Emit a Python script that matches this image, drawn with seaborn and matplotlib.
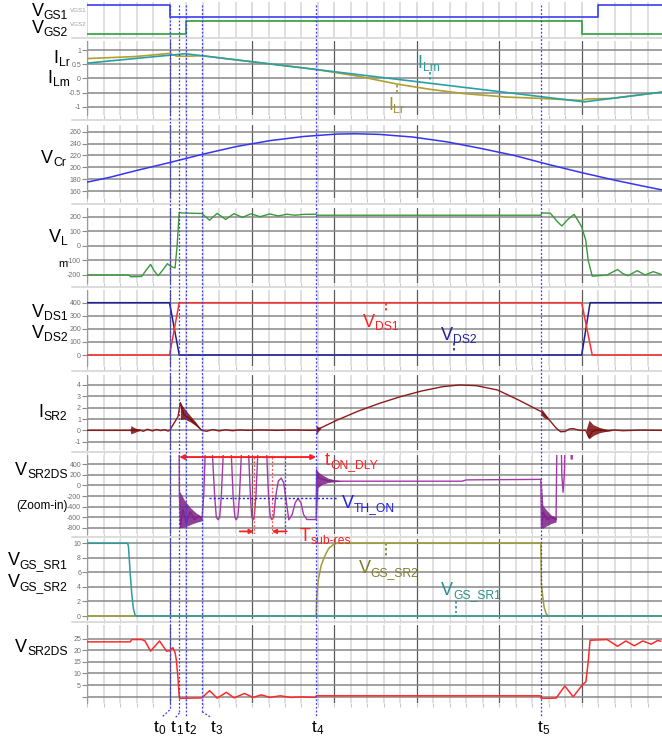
import numpy as np
import pandas as pd
import matplotlib
matplotlib.use("Agg")
import matplotlib.pyplot as plt
import seaborn as sns
from matplotlib.lines import Line2D
from matplotlib import transforms

sns.set_theme(style="white")
plt.rcParams['font.family'] = ['Liberation Sans', 'DejaVu Sans']
plt.rcParams['axes.unicode_minus'] = False

W, H = 662, 743
XL, XR, DIV = 87.3, 662.0, 82.5
XMAX = (XR - XL) / DIV

# ---------------- data (time in major divisions) ----------------
event_labels = ['0', '1', '2', '3', '4', '5']
event_times = [0.998, 1.116, 1.203, 1.392, 2.778, 5.510]

vgs1_t = [0.0, 0.998, 0.998, 6.205, 6.205, 6.97]
vgs1_v = [1, 1, 0, 0, 1, 1]
vgs2_t = [0.0, 1.203, 1.203, 6.001, 6.001, 6.97]
vgs2_v = [0, 0, 1, 1, 0, 0]

ilm_t = [0.00, 1.19, 6.03, 6.97]
ilm_v = [0.54, 0.87, -0.82, -0.48]
ilr_t = [0.00, 0.58, 1.00, 1.08, 1.19, 1.39, 2.78, 3.29, 3.75, 4.16, 4.57, 5.08, 5.51, 6.00, 6.06, 6.36, 6.97]
ilr_v = [0.70, 0.77, 0.88, 0.79, 0.78, 0.80, 0.315, 0.08, -0.19, -0.38, -0.53, -0.65, -0.70, -0.77, -0.72, -0.70, -0.48]

vcr_t = [0.00, 0.27, 0.58, 1.00, 1.40, 1.81, 2.22, 2.63, 3.03, 3.25, 3.54, 3.95, 4.36, 4.77, 5.18, 5.59, 6.00, 6.41, 6.72, 6.97]
vcr_v = [175, 183, 194, 208, 222, 235, 245, 252, 256, 256.5, 255.5, 251, 243, 232, 220, 205, 191, 178, 169, 162]

vl_t = [0.00, 0.50, 0.53, 0.66, 0.71, 0.768, 0.81, 0.86, 0.91, 0.973, 1.01, 1.065, 1.09, 1.116, 1.14, 1.25,
        1.39, 1.484, 1.576, 1.679, 1.781, 1.883, 1.986, 2.098, 2.216, 2.318, 2.420, 2.523, 2.62, 2.775, 2.785,
        5.505, 5.52, 5.62, 5.70, 5.76, 5.83, 5.909, 5.96, 6.00, 6.05, 6.08, 6.129, 6.20, 6.31, 6.436, 6.50,
        6.564, 6.676, 6.768, 6.870, 6.962]
vl_v = [-200, -200, -212, -210, -170, -127, -170, -205, -170, -122, -140, -152, 0, 230, 226, 224,
        222, 176, 223, 181, 221, 195, 220, 200, 219, 205, 217, 210, 216, 217, 210,
        210, 226, 224, 170, 136, 180, 216, 170, 131, 40, -100, -208, -205, -200, -162, -190,
        -205, -170, -200, -177, -195]

vds1_t = [0.0, 0.998, 1.116, 6.001, 6.129, 6.97]
vds1_v = [0, 0, 400, 400, 0, 0]
vds2_t = [0.0, 0.998, 1.116, 6.001, 6.103, 6.97]
vds2_v = [400, 400, 0, 0, 400, 400]

isr_t = [0.00, 0.52, 0.63, 0.68, 0.73, 0.79, 0.84, 0.89, 0.94, 0.98, 1.00, 1.10, 1.13, 1.17, 1.25, 1.32,
         1.39, 1.45, 1.52, 1.60, 1.68, 1.76, 1.85, 1.95, 2.10, 2.30, 2.50, 2.70, 2.778, 3.034, 3.290, 3.546,
         3.801, 4.057, 4.313, 4.517, 4.722, 4.978, 5.234, 5.510, 5.592, 5.694, 5.745, 5.80, 5.85, 5.90,
         5.975, 6.05, 6.09, 6.13, 6.20, 6.30, 6.40, 6.50, 6.70, 6.97]
isr_v = [0, 0, 0.05, -0.08, 0.10, -0.05, 0.08, -0.02, 0.06, -0.06, 0.0, 1.2, 2.45, 1.4, 1.0, 0.5,
         0.0, -0.08, 0.07, -0.05, 0.05, -0.03, 0.04, 0.0, 0.04, 0.0, 0.04, 0.0, 0.02, 0.91, 1.70, 2.38,
         2.97, 3.47, 3.85, 4.0, 3.94, 3.56, 2.68, 1.65, 1.06, 0.18, -0.12, -0.10, 0.12, 0.15,
         0.0, 0.0, -0.65, -0.10, 0.05, -0.05, 0.03, -0.03, 0.02, 0.0]
# dense ringing envelopes: (times, upper, lower)
isr_bursts = [
    ([0.52, 0.53, 0.56, 0.60, 0.64], [0.0, 0.42, 0.28, 0.14, 0.04], [0.0, -0.32, -0.22, -0.10, -0.03]),
    ([1.13, 1.18, 1.25, 1.32, 1.39], [2.45, 1.90, 1.30, 0.70, 0.0], [0.95, 1.00, 0.75, 0.40, 0.0]),
    ([2.772, 2.78, 2.80, 2.83], [0.0, 0.42, 0.33, 0.25], [0.0, -0.38, -0.12, 0.12]),
    ([5.505, 5.53, 5.56, 5.59], [1.95, 1.75, 1.45, 1.15], [1.35, 1.20, 1.05, 1.00]),
    ([6.06, 6.09, 6.14, 6.22, 6.30, 6.38], [0.2, 0.9, 0.5, 0.25, 0.10, 0.0], [-0.3, -0.75, -0.45, -0.20, -0.08, 0.0]),
]

vz_t = [0.00, 1.112, 1.118, 1.13, 1.16, 1.20, 1.25, 1.30, 1.35, 1.392,
        1.413, 1.433, 1.474, 1.515, 1.546, 1.566, 1.587, 1.607, 1.627,
        1.653, 1.699, 1.745, 1.770, 1.791, 1.806, 1.827, 1.847,
        1.873, 1.914, 1.955, 1.980, 1.996, 2.011, 2.026, 2.047,
        2.072, 2.124, 2.175, 2.200, 2.221, 2.241, 2.262, 2.287,
        2.318, 2.354, 2.384, 2.415, 2.446, 2.487, 2.523, 2.558, 2.594, 2.625, 2.666, 2.768,
        2.778, 2.783, 2.80, 2.85, 2.92, 3.0, 3.07, 4.55, 4.60,
        5.505, 5.512, 5.53, 5.58, 5.63, 5.69, 5.705, 5.745, 5.760, 5.775, 5.790, 5.810, 5.860, 5.875, 5.885, 5.900, 6.97]
vz_v = [1500, 1500, -150, -800, -450, -700, -500, -650, -580, -620,
        -200, 700, 1500, 700, -200, -600, -650, -600, -200,
        700, 1500, 700, -200, -600, -650, -600, -200,
        700, 1400, 700, -200, -600, -650, -600, -200,
        700, 1200, 700, -200, -600, -650, -600, -200,
        80, 140, 50, -300, -650, -550, -330, -245, -330, -550, -645, -645,
        -640, 300, 150, 120, 90, 85, 80, 80, 105,
        115, -800, -500, -650, -600, -650, 1500, 1500, 200, -130, 200, 1500, 1500, 500, 500, 1500, 1500]
vz_bursts = [
    ([1.12, 1.18, 1.25, 1.32, 1.39], [-110, -280, -420, -520, -590], [-800, -790, -740, -700, -670]),
    ([2.778, 2.80, 2.85, 2.92, 3.00, 3.07], [300, 260, 200, 140, 105, 90], [-640, -40, 20, 55, 70, 78]),
    ([5.51, 5.53, 5.58, 5.63, 5.69], [110, -380, -480, -560, -600], [-800, -810, -760, -720, -690]),
]

vgs_sr1_t = [0.0, 0.49, 0.50, 0.52, 0.54, 0.56, 0.58, 0.60, 6.97]
vgs_sr1_v = [10, 10, 9.5, 6, 3, 1, 0.1, 0, 0]
vgs_sr2_t = [0.0, 2.778, 2.785, 2.804, 2.84, 2.881, 2.93, 2.983, 3.03, 5.505, 5.512, 5.525, 5.545, 5.57, 5.60, 6.97]
vgs_sr2_v = [0, 0, 2.5, 5, 7, 8.2, 9.3, 9.8, 10, 10, 4.5, 3.0, 1.2, 0.3, 0, 0]

vsr_t = [0.00, 0.52, 0.54, 0.66, 0.70, 0.768, 0.876, 0.962, 0.998, 1.039, 1.065, 1.08, 1.101, 1.116, 1.12,
         1.39, 1.484, 1.576, 1.689, 1.781, 1.909, 2.011, 2.113, 2.216, 2.343, 2.471, 2.60, 2.77, 2.78,
         5.505, 5.51, 5.69, 5.796, 5.898, 6.001, 6.052, 6.08, 6.103, 6.31, 6.436, 6.538, 6.640, 6.742,
         6.845, 6.922, 6.962]
vsr_v = [23.6, 23.6, 24.6, 24.6, 24.0, 19.6, 24.0, 19.6, 19.8, 21.1, 19.0, 16, 8, 0, -0.7,
         -0.5, 2.6, -0.6, 1.9, -0.5, 1.4, -0.3, 0.8, -0.3, 0.4, -0.3, -0.1, -0.3, 0.4,
         0.4, -0.7, -0.6, 4.6, 0.0, 4.7, 6.5, 15, 24.3, 24.6, 21.7, 24.0, 21.9, 24.0,
         22.6, 24.2, 23.9]

# ---------------- figure ----------------
fig = plt.figure(figsize=(W / 100, H / 100), dpi=100)
fig.patch.set_facecolor('white')


def fx(px):
    return px / W


def fy(py):
    return 1 - py / H


def make_ax(top, bottom):
    ax = fig.add_axes([fx(XL), fy(bottom), fx(XR) - fx(XL) + 0.003, (bottom - top) / H])
    ax.set_facecolor('none')
    return ax


def style_ax(ax, ylim, yticks=None, ylabels=None, light=False):
    ax.set_xlim(0, XMAX)
    ax.set_ylim(*ylim)
    ax.set_xticks(np.arange(0, 7.01, 1.0))
    ax.set_xticks(np.arange(0, 7.01, 0.2), minor=True)
    ax.set_xticklabels([])
    ax.set_xlabel('')
    ax.set_ylabel('')
    ax.grid(True, which='minor', axis='x', color='#e0e0e0', lw=1.4)
    ax.grid(True, which='major', axis='x', color='#dcdcdc' if light else '#5a5a5a', lw=1.4 if light else 0.9)
    if yticks is not None:
        ax.set_yticks(yticks)
        ax.set_yticklabels(ylabels)
        ax.grid(True, which='major', axis='y', color='#878787', lw=1.1)
        ax.tick_params(axis='y', which='major', length=3.5, width=0.8, color='#8a8a8a',
                       labelsize=5, labelcolor='#707070', pad=1, left=True)
        ax.tick_params(axis='x', which='both', length=3, width=0.8, color='#c8c8c8', bottom=True)
    else:
        ax.set_yticks([])
        ax.tick_params(axis='x', which='both', length=0)
    ax.set_axisbelow(True)
    for s in ['top', 'right', 'bottom']:
        ax.spines[s].set_visible(False)
    ax.spines['left'].set_visible(yticks is not None)
    ax.spines['left'].set_color('#9a9a9a')
    ax.spines['left'].set_linewidth(0.8)


def trace(ax, t, v, color, lw=1.0, zorder=3):
    df = pd.DataFrame({'t': t, 'v': v})
    sns.lineplot(data=df, x='t', y='v', ax=ax, color=color, lw=lw, sort=False,
                 estimator=None, legend=False, zorder=zorder)


def bursts(ax, items, color):
    for bt, up, lo in items:
        ax.fill_between(bt, up, lo, color=color, lw=0, alpha=0.85, zorder=4)


renderer = fig.canvas.get_renderer()


def sub_text(x, y, main, sub, size, subsize, color, ha='left', drop=3):
    t1 = fig.text(fx(x), fy(y), main, fontsize=size, color=color, ha='left', va='baseline')
    t2 = fig.text(fx(x), fy(y + drop), sub, fontsize=subsize, color=color, ha='left', va='baseline')
    w1 = t1.get_window_extent(renderer).width
    w2 = t2.get_window_extent(renderer).width
    x0 = x - w1 - w2 if ha == 'right' else x
    t1.set_x(fx(x0))
    t2.set_x(fx(x0 + w1))


# panels
ax1a = make_ax(2, 19)
ax1b = make_ax(19, 37)
ax2 = make_ax(41, 115)
ax3 = make_ax(125, 198)
ax4 = make_ax(208, 283)
ax5 = make_ax(290, 366)
ax6 = make_ax(375, 450)
ax7 = make_ax(455, 534)
ax8 = make_ax(539, 619)
ax9 = make_ax(625, 703)

BLUE = '#3c3cf5'

trace(ax1a, vgs1_t, vgs1_v, '#3c3cf5', lw=1.2)
trace(ax1b, vgs2_t, vgs2_v, '#2e9e3a', lw=1.2)
style_ax(ax1a, (-0.167, 1.25), light=True)
style_ax(ax1b, (-0.231, 1.154), light=True)

trace(ax2, ilr_t, ilr_v, '#b0a030', lw=1.2)
trace(ax2, ilm_t, ilm_v, '#2aa0a6', lw=1.2)
style_ax(ax2, (-1.281, 1.316), [-1, -0.5, 0, 0.5, 1], ['-1', '-0.5', '0', '0.5', '1'])

trace(ax3, vcr_t, vcr_v, '#3535f0', lw=1.1)
style_ax(ax3, (148.2, 271.3), [160, 180, 200, 220, 240, 260], ['160', '180', '200', '220', '240', '260'])

trace(ax4, vl_t, vl_v, '#3a9a3a', lw=1.0)
style_ax(ax4, (-254.9, 259.7), [-200, -100, 0, 100, 200], ['-200', '-100', '0', '100', '200'])

trace(ax5, vds2_t, vds2_v, '#1f1f99', lw=1.1)
trace(ax5, vds1_t, vds1_v, '#ff3030', lw=1.1)
style_ax(ax5, (-84, 497), [0, 100, 200, 300, 400], ['0', '100', '200', '300', '400'])

trace(ax6, isr_t, isr_v, '#8e1b1b', lw=1.0)
bursts(ax6, isr_bursts, '#7a0d0d')
style_ax(ax6, (-1.73, 4.88), [-1, 0, 1, 2, 3, 4], ['-1', '0', '1', '2', '3', '4'])

trace(ax7, vz_t, vz_v, '#a23aa8', lw=1.0)
bursts(ax7, vz_bursts, '#7b1e86')
style_ax(ax7, (-919, 576), [-800, -600, -400, -200, 0, 200, 400],
         ['-800', '-600', '-400', '-200', '0', '200', '400'])

trace(ax8, vgs_sr2_t, vgs_sr2_v, '#a09e34', lw=1.1)
trace(ax8, vgs_sr1_t, vgs_sr1_v, '#2f9c9c', lw=1.1)
style_ax(ax8, (-0.41, 10.59), [0, 2, 4, 6, 8, 10], ['0', '2', '4', '6', '8', '10'])

trace(ax9, vsr_t, vsr_v, '#ff2a2a', lw=1.1)
style_ax(ax9, (-2.7, 30.86), [0, 5, 10, 15, 20, 25], ['', '5', '10', '15', '20', '25'])

# panel separators
for yy in [38, 120, 204, 287, 371, 452, 537, 622]:
    fig.add_artist(Line2D([fx(72), fx(662)], [fy(yy), fy(yy)], color='#dcdcdc', lw=1.4))

# tiny channel names in the top strip
fig.text(fx(86.5), fy(10), 'VGS1', fontsize=4.5, color='#a0a0a0', ha='right', va='center')
fig.text(fx(86.5), fy(25), 'VGS2', fontsize=4.5, color='#a0a0a0', ha='right', va='center')

# event marker lines (blue dotted) across panels
trans = transforms.blended_transform_factory(ax9.transData, fig.transFigure)
leaders = [(710, -7.2, 716.7), (713, -4.5, 718.3), (716.7, 0, 716.7), (711.7, 8.7, 717.3), (716, 0, 716), (716, 0, 716)]
for tt, (yt, dx, ye) in zip(event_times, leaders):
    fig.add_artist(Line2D([tt, tt], [fy(5), fy(yt)], transform=trans, color=BLUE, lw=0.9,
                          ls=(0, (1.5, 1.5)), zorder=10))
    if dx != 0:
        xp = XL + DIV * tt
        fig.add_artist(Line2D([fx(xp), fx(xp + dx)], [fy(yt), fy(ye)], color=BLUE, lw=0.9,
                              ls=(0, (1.5, 1.5)), zorder=10))

# extra markers in zoom-in panel
DOT = (0, (1.5, 1.5))
ax7.axvline(2.40, color=BLUE, lw=0.9, ls=DOT, zorder=6)
for xr in [2.02, 2.24]:
    ax7.axvline(xr, color='#ff5050', lw=0.9, ls=DOT, zorder=6)
ax7.plot([1.475, 3.03], [-240, -240], color='#2020ee', lw=1.0, ls=DOT, zorder=6)
ax7.annotate('', xy=(2.778, 537), xytext=(1.116, 537),
             arrowprops=dict(arrowstyle='<|-|>', color='#ff2020', lw=1.4, mutation_scale=7,
                             shrinkA=0, shrinkB=0), zorder=8)
ax7.annotate('', xy=(2.02, -870), xytext=(1.85, -870),
             arrowprops=dict(arrowstyle='-|>', color='#ff2020', lw=1.3, mutation_scale=6,
                             shrinkA=0, shrinkB=0), zorder=8)
ax7.annotate('', xy=(2.24, -870), xytext=(2.42, -870),
             arrowprops=dict(arrowstyle='-|>', color='#ff2020', lw=1.3, mutation_scale=6,
                             shrinkA=0, shrinkB=0), zorder=8)

# label markers (short dotted leaders)
ax2.plot([4.16, 4.16], [0.235, -0.05], color='#2a9a9a', lw=1.2, ls=DOT)
ax2.plot([3.76, 3.76], [-0.22, -0.57], color='#a09030', lw=1.2, ls=DOT)
ax5.plot([3.62, 3.62], [397, 320], color='#ff2020', lw=1.2, ls=DOT)
ax5.plot([4.45, 4.45], [92, 15], color='#2020a0', lw=1.2, ls=DOT)
ax8.plot([3.62, 3.62], [10, 8], color='#7d7d28', lw=1.2, ls=DOT)
ax8.plot([4.47, 4.47], [2.0, 0.4], color='#2a9090', lw=1.2, ls=DOT)

# left labels
MS, SS = 13, 8.7
K = 'black'
sub_text(68, 16.5, 'V', 'GS1', MS, SS, K, ha='right', drop=2.5)
sub_text(68, 33, 'V', 'GS2', MS, SS, K, ha='right', drop=2.5)
sub_text(69.6, 63, 'I', 'Lr', MS, SS, K, ha='right')
sub_text(69.6, 83, 'I', 'Lm', MS, SS, K, ha='right')
sub_text(66, 163, 'V', 'Cr', MS, SS, K, ha='right')
sub_text(67.5, 242, 'V', 'L', MS, SS, K, ha='right')
fig.text(fx(68), fy(267), 'm', fontsize=8, color=K, ha='right', va='baseline')
sub_text(67.5, 317, 'V', 'DS1', MS, SS, K, ha='right')
sub_text(67.5, 338, 'V', 'DS2', MS, SS, K, ha='right')
sub_text(67.5, 417, 'I', 'SR2', MS, SS, K, ha='right')
sub_text(67.5, 475, 'V', 'SR2DS', MS, SS, K, ha='right')
fig.text(fx(67.5), fy(509), '(Zoom-in)', fontsize=8.5, color=K, ha='right', va='baseline')
sub_text(67.5, 565, 'V', 'GS_SR1', MS, SS, K, ha='right')
sub_text(67.5, 587, 'V', 'GS_SR2', MS, SS, K, ha='right')
sub_text(67.5, 652, 'V', 'SR2DS', MS, SS, K, ha='right')

# in-plot labels
IS, ISS = 13, 8.7
sub_text(417.7, 68, 'I', 'Lm', IS, ISS, '#2a9a9a')
sub_text(388, 110, 'I', 'Lr', IS, ISS, '#a09030')
sub_text(363, 327, 'V', 'DS1', IS, ISS, '#ff2020')
sub_text(441, 340, 'V', 'DS2', IS, ISS, '#2020a0')
sub_text(325, 465, 't', 'ON_DLY', IS, ISS, '#ff2020')
sub_text(342, 508, 'V', 'TH_ON', IS, ISS, '#2020ee')
sub_text(300, 541, 'T', 'sub-res', IS, ISS, '#ff2020')
sub_text(358.6, 573, 'V', 'GS_SR2', IS, ISS, '#7d7d28')
sub_text(441, 595, 'V', 'GS_SR1', IS, ISS, '#2a9090')

# bottom time labels
for lab, xl in zip(event_labels, [154, 171, 185, 211, 312, 538]):
    sub_text(xl, 731.7, 't', lab, 12.5, 8.5, K, drop=2)

fig.savefig('out.png', dpi=100, facecolor='white')
